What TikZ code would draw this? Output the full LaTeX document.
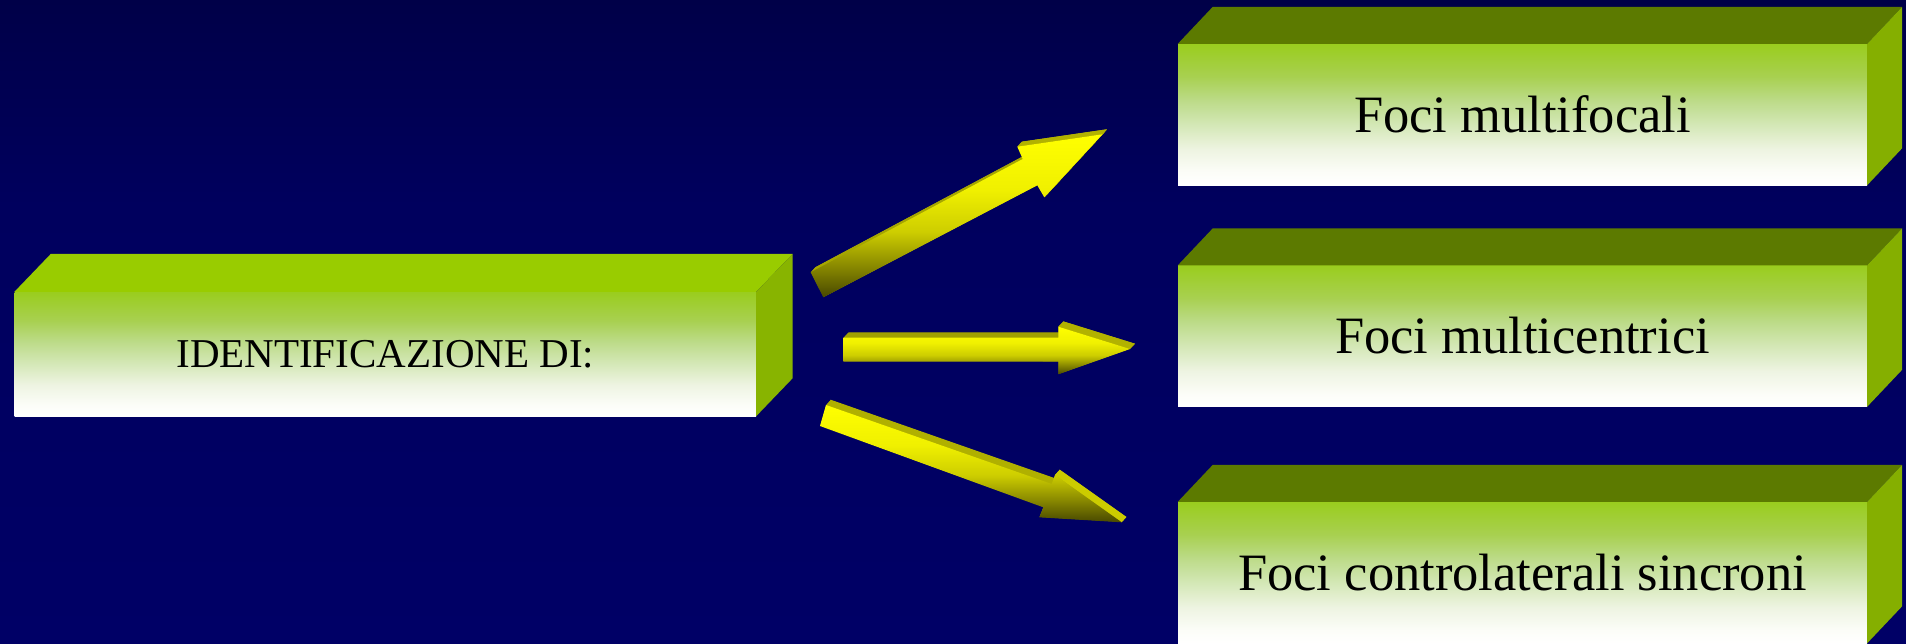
\documentclass[tikz,border=0pt]{standalone}
\usepackage{fontspec}
\setmainfont{Liberation Serif}
\definecolor{bgtop}{RGB}{0,0,72}
\definecolor{bgmid}{RGB}{0,0,94}
\definecolor{bgbot}{RGB}{0,0,102}
\definecolor{fgone}{RGB}{252,253,248}
\definecolor{fgtwo}{RGB}{238,244,226}
\definecolor{fgthree}{RGB}{213,232,184}
\definecolor{fgfour}{RGB}{188,219,136}
\definecolor{fgfive}{RGB}{168,208,80}
\definecolor{fgtop}{RGB}{154,205,30}
\definecolor{ltopc}{RGB}{153,204,0}
\definecolor{lsidec}{RGB}{136,180,0}
\definecolor{rtopc}{RGB}{92,122,0}
\definecolor{rsidec}{RGB}{133,175,0}
\definecolor{ayellow}{RGB}{255,255,0}
\definecolor{aupper}{RGB}{240,240,0}
\definecolor{amid}{RGB}{205,205,0}
\definecolor{alow}{RGB}{140,140,0}
\definecolor{adark}{RGB}{72,72,0}
\definecolor{asideA}{RGB}{166,166,0}
\definecolor{asideB}{RGB}{160,160,0}
\definecolor{asideC}{RGB}{176,176,0}
\definecolor{aheadA}{RGB}{178,178,0}
\definecolor{aheadB}{RGB}{178,178,0}
\definecolor{aheadC}{RGB}{204,204,0}
\pgfdeclareverticalshading{bggrad}{100bp}{color(0bp)=(bgbot); color(25bp)=(bgbot); color(59bp)=(bgmid); color(75bp)=(bgtop); color(100bp)=(bgtop)}
\pgfdeclareverticalshading{facegrad}{100bp}{color(0bp)=(white); color(25bp)=(white); color(29.5bp)=(fgone); color(37.5bp)=(fgtwo); color(46bp)=(fgthree); color(55bp)=(fgfour); color(63.5bp)=(fgfive); color(75bp)=(fgtop); color(100bp)=(fgtop)}
\pgfdeclareverticalshading{arrowgrad}{100bp}{color(0bp)=(adark); color(25bp)=(adark); color(35bp)=(alow); color(45bp)=(amid); color(58bp)=(aupper); color(75bp)=(ayellow); color(100bp)=(ayellow)}
\def\Aone{(810.7,272.3) -- (823.3,297.3) -- (1037.3,185.3) -- (1044.3,197.3) -- (1102.4,134.3) -- (1017.3,146.7) -- (1022.7,159) -- cycle}
\def\Atwo{(843.3,337.7) -- (843.3,361.5) -- (1058.3,361.7) -- (1058.3,374.3) -- (1130,349) -- (1058.3,326.7) -- (1058.3,337.7) -- cycle}
\def\Athree{(826,405) -- (820,426) -- (1043.3,507.3) -- (1039.3,517.3) -- (1121.7,522.3) -- (1055,475) -- (1051.7,484) -- cycle}
\begin{document}
\begin{tikzpicture}[x=1pt,y=-1pt,
  face/.style={shade, shading=facegrad, inner sep=0pt, text=black},
  lface/.style={face, minimum width=741.4pt, minimum height=124pt, font=\fontsize{41}{48}\selectfont},
  rface/.style={face, minimum width=689pt, minimum height=141pt, font=\fontsize{52.5}{60}\selectfont},
  arrowface/.style={shading=arrowgrad}]
\useasboundingbox (0,0) rectangle (1906,643);
\clip (0,0) rectangle (1906,643);
\shade[shading=bggrad] (0,0) rectangle (1906,643);

% left box
\node[lface] (src) at (385.3,354) {IDENTIFICAZIONE DI:};
\fill[ltopc] (src.north west) -- ++(36.5,-38) -- ([shift={(36.5,-38)}]src.north east) -- (src.north east) -- cycle;
\fill[lsidec] (src.north east) -- ++(36.5,-38) -- ([shift={(36.5,-38)}]src.south east) -- (src.south east) -- cycle;

% right boxes
\node[rface] (r1) at (1522.5,114.5) {Foci multifocali};
\node[rface] (r2) at (1522.5,336) {Foci multicentrici};
\node[rface] (r3) at (1522.5,572.5) {Foci controlaterali sincroni};
\foreach \b in {r1,r2,r3}{
  \fill[rtopc] (\b.north west) -- ++(35,-37) -- ([shift={(35,-37)}]\b.north east) -- (\b.north east) -- cycle;
  \fill[rsidec] (\b.north east) -- ++(35,-37) -- ([shift={(35,-37)}]\b.south east) -- (\b.south east) -- cycle;
}

% arrow 1
\foreach \t in {1,...,12}{\fill[asideA, shift={({0.375*\t},{-0.4167*\t})}] \Aone;}
\fill[aheadA] (1017.3,146.7) -- (1102.4,134.3) -- ++(4.5,-5) -- (1021.8,141.7) -- cycle;
\shade[arrowface] \Aone;

% arrow 2
\foreach \t in {1,...,12}{\fill[asideB, shift={({0.4167*\t},{-0.4417*\t})}] \Atwo;}
\fill[aheadB] (1058.3,326.7) -- (1130,349) -- ++(5,-5.3) -- (1063.3,321.4) -- cycle;
\shade[arrowface] \Atwo;

% arrow 3
\foreach \t in {1,...,12}{\fill[asideC, shift={({0.39*\t},{-0.44*\t})}] \Athree;}
\fill[aheadC] (1055,475) -- (1121.7,522.3) -- ++(4.7,-5.3) -- (1059.7,469.7) -- cycle;
\shade[arrowface] \Athree;
\end{tikzpicture}
\end{document}
